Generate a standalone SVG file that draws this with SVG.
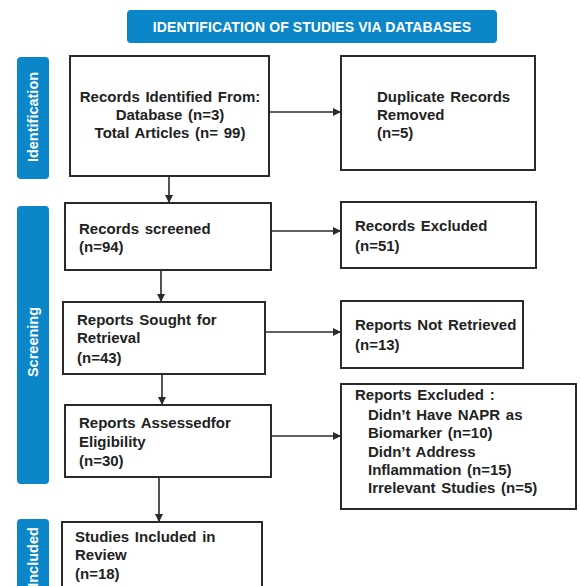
<svg xmlns="http://www.w3.org/2000/svg" width="580" height="586" viewBox="0 0 580 586">
<style>
.box{fill:#fff;stroke:#2a2a2a;stroke-width:2}
.side{fill:#0b86c8}
.t{font-family:"Liberation Sans",Arial,sans-serif;font-weight:bold;font-size:15px;fill:#222;word-spacing:1.5px}
.st{font-family:"Liberation Sans",Arial,sans-serif;font-weight:bold;font-size:14.5px;fill:#fff;text-anchor:middle}
.hd{font-family:"Liberation Sans",Arial,sans-serif;font-weight:bold;font-size:14px;fill:#fff;text-anchor:middle;letter-spacing:0.1px}
.c{stroke:#2a2a2a;stroke-width:1.6;fill:none;marker-end:url(#ah)}
</style>
<defs>
<marker id="ah" viewBox="0 0 10 10" refX="10" refY="5" markerWidth="9" markerHeight="8" markerUnits="userSpaceOnUse" orient="auto">
<path d="M0,0 L10,5 L0,10 z" fill="#2a2a2a"/>
</marker>
</defs>
<rect width="580" height="586" fill="#fff"/>

<g id="header">
<rect x="127" y="10" width="370" height="33" rx="4" class="side"/>
<text x="312" y="31.5" class="hd">IDENTIFICATION OF STUDIES VIA DATABASES</text>
</g>

<g id="side-identification">
<rect x="17" y="57" width="32" height="122" rx="4" class="side"/>
<text class="st" transform="translate(38,117) rotate(-90)">Identification</text>
</g>
<g id="side-screening">
<rect x="17" y="206" width="32" height="278" rx="4" class="side"/>
<text class="st" transform="translate(38,342) rotate(-90)">Screening</text>
</g>
<g id="side-included">
<rect x="17" y="519" width="32" height="80" rx="4" class="side"/>
<text class="st" transform="translate(38,557) rotate(-90)">Included</text>
</g>

<g id="connectors">
<line x1="269" y1="112" x2="341" y2="112" class="c"/>
<line x1="271" y1="231" x2="341" y2="231" class="c"/>
<line x1="265" y1="332" x2="341" y2="332" class="c"/>
<line x1="271" y1="436" x2="341" y2="436" class="c"/>
<line x1="169" y1="176" x2="169" y2="203" class="c"/>
<line x1="161" y1="270" x2="161" y2="302" class="c"/>
<line x1="162" y1="374" x2="162" y2="405" class="c"/>
<line x1="159" y1="477" x2="159" y2="522" class="c"/>
</g>

<g id="records-identified">
<rect x="70" y="56" width="199" height="120" class="box"/>
<text class="t" text-anchor="middle"><tspan x="170" y="102">Records Identified From:</tspan><tspan x="170" y="120">Database (n=3)</tspan><tspan x="170" y="138">Total Articles (n= 99)</tspan></text>
</g>

<g id="duplicates-removed">
<rect x="341" y="56" width="194" height="114" class="box"/>
<text class="t"><tspan x="377" y="102">Duplicate Records</tspan><tspan x="377" y="120">Removed</tspan><tspan x="377" y="138">(n=5)</tspan></text>
</g>

<g id="records-screened">
<rect x="65" y="203" width="206" height="67" class="box"/>
<text class="t"><tspan x="79" y="234">Records screened</tspan><tspan x="79" y="252">(n=94)</tspan></text>
</g>

<g id="records-excluded">
<rect x="341" y="202" width="195" height="66" class="box"/>
<text class="t"><tspan x="355" y="231">Records Excluded</tspan><tspan x="355" y="251">(n=51)</tspan></text>
</g>

<g id="reports-sought">
<rect x="63" y="302" width="202" height="72" class="box"/>
<text class="t"><tspan x="77" y="325">Reports Sought for</tspan><tspan x="77" y="343">Retrieval</tspan><tspan x="77" y="363">(n=43)</tspan></text>
</g>

<g id="reports-not-retrieved">
<rect x="341" y="301" width="182" height="67" class="box"/>
<text class="t"><tspan x="355" y="330">Reports Not Retrieved</tspan><tspan x="355" y="350">(n=13)</tspan></text>
</g>

<g id="reports-assessed">
<rect x="65" y="405" width="206" height="72" class="box"/>
<text class="t"><tspan x="79" y="428">Reports Assessedfor</tspan><tspan x="79" y="447">Eligibility</tspan><tspan x="79" y="466">(n=30)</tspan></text>
</g>

<g id="reports-excluded">
<rect x="341" y="384" width="235" height="125" class="box"/>
<text class="t"><tspan x="355" y="400">Reports Excluded :</tspan><tspan x="368" y="420">Didn’t Have NAPR as</tspan><tspan x="368" y="438">Biomarker (n=10)</tspan><tspan x="368" y="457">Didn’t Address</tspan><tspan x="368" y="475">Inflammation (n=15)</tspan><tspan x="368" y="493">Irrelevant Studies (n=5)</tspan></text>
</g>

<g id="studies-included">
<rect x="62" y="522" width="200" height="80" class="box"/>
<text class="t"><tspan x="75" y="542">Studies Included in</tspan><tspan x="75" y="560">Review</tspan><tspan x="75" y="579">(n=18)</tspan></text>
</g>
</svg>
